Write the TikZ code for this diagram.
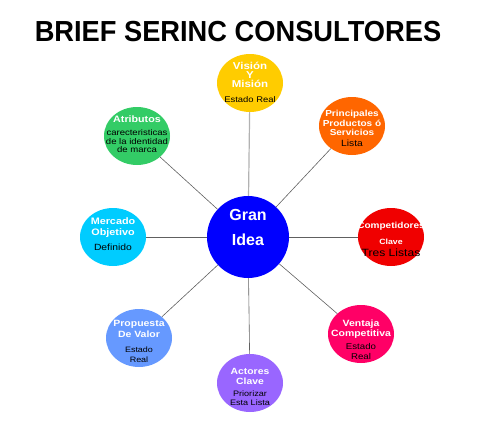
\documentclass[tikz,border=0pt]{standalone}
\usepackage{fontspec}
\setmainfont{Liberation Sans}
\newfontfamily\bubblefont[FakeStretch=1.15]{Liberation Sans}
\usepackage{xcolor}
\usepackage{tikz}
\usetikzlibrary{positioning,shapes.geometric,calc}

\definecolor{cvision}{HTML}{FFCC00}
\definecolor{cprod}{HTML}{FF6600}
\definecolor{ccomp}{HTML}{F00000}
\definecolor{cventaja}{HTML}{FF0066}
\definecolor{cactores}{HTML}{9966FF}
\definecolor{cprop}{HTML}{6699FF}
\definecolor{cmercado}{HTML}{00CCFF}
\definecolor{catrib}{HTML}{33CC66}
\definecolor{cgran}{HTML}{0000FF}

% size / baselineskip
\newcommand{\hd}[2]{\fontsize{#1}{#2}\bubblefont\bfseries}
\newcommand{\bd}[2]{\fontsize{#1}{#2}\bubblefont}

\begin{document}
\begin{tikzpicture}[
  x=1pt, y=-1pt,
  bubble/.style={ellipse, minimum width=66pt, minimum height=58pt,
                 inner sep=0pt, fill=#1},
  hub/.style={circle, minimum size=82pt, inner sep=0pt, fill=cgran},
  head/.style={text=white, align=center, inner sep=0pt, anchor=base},
  body/.style={text=black, align=center, inner sep=0pt, anchor=base},
  spoke/.style={draw=gray!75!black, line width=0.6pt},
]
\useasboundingbox (0,0) rectangle (491,423);

\node[font=\fontsize{29}{30}\selectfont\bfseries, inner sep=0pt] (title) at (238,32)
  {\scalebox{0.94}[1]{BRIEF SERINC CONSULTORES}};

% centre (multi-line nodes sit on the baseline of their last line)
\node[hub] (gran) at (248,237) {};
\node[head, font=\fontsize{16}{25}\selectfont\bfseries] (granT) at (248,245) {Gran\\Idea};

% outer bubbles
\node[bubble=cvision]  (vision)  at (250,83)  {};
\node[bubble=cprod]    (prod)    at (352,126) {};
\node[bubble=ccomp]    (comp)    at (391,237) {};
\node[bubble=cventaja] (ventaja) at (361,334) {};
\node[bubble=cactores] (actores) at (250,383) {};
\node[bubble=cprop]    (prop)    at (139,338) {};
\node[bubble=cmercado] (mercado) at (113,237) {};
\node[bubble=catrib]   (atrib)   at (137,136) {};

% texts
\node[head, font=\hd{10}{9.3}]  (visionH) at (250,87.7) {Visión\\Y\\Misión};
\node[body, font=\bd{8.2}{10}]  (visionB) at (250,102)  {Estado Real};

\node[head, font=\hd{8.7}{9.5}] (prodH) at (352,135.7) {Principales\\Productos ó\\Servicios};
\node[body, font=\bd{9}{10}]    (prodB) at (352,146)   {Lista};

\node[head, font=\hd{8.7}{10}]  (compH1) at (391,228.3) {Competidores};
\node[head, font=\hd{7.6}{9}]   (compH2) at (391,244.3) {Clave};
\node[body, font=\bd{10.5}{11}] (compB)  at (391,256)   {Tres Listas};

\node[head, font=\hd{9.1}{10}]  (ventajaH) at (361,336) {Ventaja\\Competitiva};
\node[body, font=\bd{8.4}{10}]  (ventajaB) at (361,359) {Estado\\Real};

\node[head, font=\hd{9}{10}]    (actoresH) at (250,384) {Actores\\Clave};
\node[body, font=\bd{7.9}{9}]   (actoresB) at (250,405) {Priorizar\\Esta Lista};

\node[head, font=\hd{9.1}{10.6}] (propH) at (139,337.3) {Propuesta\\De Valor};
\node[body, font=\bd{7.8}{10}]   (propB) at (139,362.7) {Estado\\Real};

\node[head, font=\hd{9.4}{11.7}] (mercadoH) at (113,235.7) {Mercado\\Objetivo};
\node[body, font=\bd{9}{10}]     (mercadoB) at (113,250.7) {Definido};

\node[head, font=\hd{9.3}{10}]  (atribH) at (137,122.7) {Atributos};
\node[body, font=\bd{8.3}{8.2}] (atribB) at (137,152.3) {carecteristicas\\de la identidad\\de marca};

% spokes
\draw[spoke, draw=gray!60, line width=1.2pt] (gran) -- (vision);
\foreach \b in {prod, comp, ventaja, actores, prop, mercado, atrib}{ \draw[spoke] (gran) -- (\b); }

\end{tikzpicture}
\end{document}
